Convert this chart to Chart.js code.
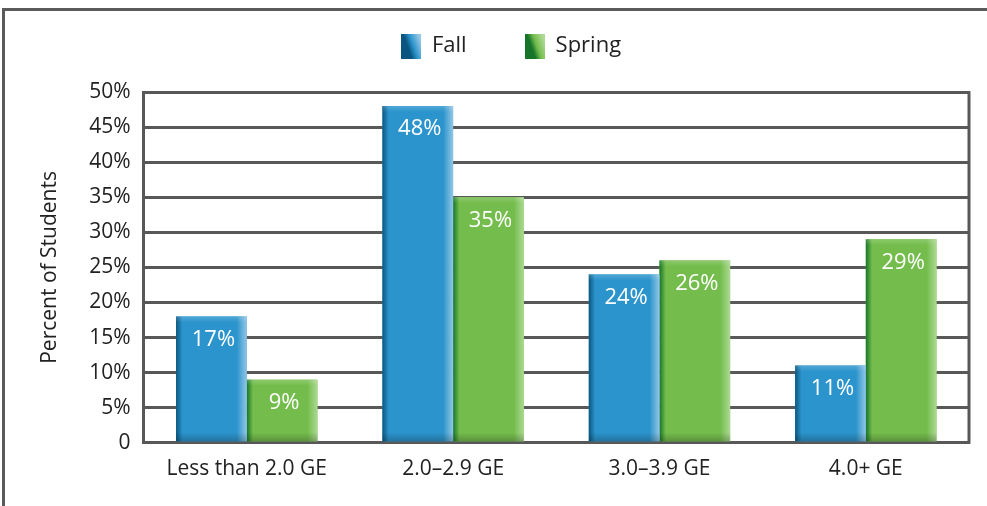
<!DOCTYPE html>
<html>
<head>
<meta charset="utf-8">
<script src="https://cdn.jsdelivr.net/npm/chart.js@4.4.1/dist/chart.umd.min.js"></script>
<style>
  html, body { margin: 0; padding: 0; background: #fff; }
  #wrap { position: relative; width: 987px; height: 506px; overflow: hidden; }
  #frame { position: absolute; left: 2px; top: 8px; width: 1000px; height: 600px;
           border-top: 3px solid #5a5a5a; border-left: 3px solid #5a5a5a; pointer-events: none; }
  canvas { position: absolute; left: 0; top: 0; }
</style>
</head>
<body>
<div id="wrap">
  <canvas id="chart" width="987" height="506"></canvas>
  <div id="frame"></div>
</div>
<script>
// data
const categories = ["Less than 2.0 GE", "2.0–2.9 GE", "3.0–3.9 GE", "4.0+ GE"];
const fallValues = [18, 48, 24, 11];
const springValues = [9, 35, 26, 29];
const fallLabels = ["17%", "48%", "24%", "11%"];
const springLabels = ["9%", "35%", "26%", "29%"];
const yTickValues = [0, 5, 10, 15, 20, 25, 30, 35, 40, 45, 50];

const FONT = "'Open Sans', 'Noto Sans', sans-serif";
const gridGray = "#585858";
const textGray = "#222";

const shades = [
  { dark: "#0b5680", main: "#2b94cc", light: "#93c6e6" },   // fall
  { dark: "#17752a", main: "#74bd4c", light: "#acd993" }    // spring
];

// little gradient squares for the legend
function legendSwatch(s) {
  const c = document.createElement("canvas");
  c.width = 20; c.height = 25;
  const g = c.getContext("2d");
  const grad = g.createLinearGradient(0, 16, 20, 9);
  grad.addColorStop(0, s.dark);
  grad.addColorStop(0.35, s.dark);
  grad.addColorStop(0.6, s.main);
  grad.addColorStop(1, s.light);
  g.fillStyle = grad;
  g.fillRect(0, 0, 20, 25);
  return c;
}

// bevel-ish shading on top of each bar, then the value label
const barShading = {
  id: "barShading",
  afterDatasetDraw(chart, args) {
    const ctx = chart.ctx;
    const s = shades[args.index];
    const texts = args.index === 0 ? fallLabels : springLabels;
    args.meta.data.forEach((bar, i) => {
      const { x, y, base, width } = bar.getProps(["x", "y", "base", "width"], true);
      const left = x - width / 2, h = base - y;
      ctx.save();
      const g = ctx.createLinearGradient(left, 0, left + width, 0);
      g.addColorStop(0, s.dark);
      g.addColorStop(0.09, s.main);
      g.addColorStop(0.86, s.main);
      g.addColorStop(1, s.light);
      ctx.fillStyle = g;
      ctx.fillRect(left, y, width, h);
      const b = ctx.createLinearGradient(0, base - 9, 0, base);
      b.addColorStop(0, "rgba(0,0,0,0)");
      b.addColorStop(1, "rgba(0,0,0,0.22)");
      ctx.fillStyle = b;
      ctx.fillRect(left, base - 9, width, 9);
      const t = ctx.createLinearGradient(0, y, 0, y + 6);
      t.addColorStop(0, "rgba(255,255,255,0.18)");
      t.addColorStop(1, "rgba(255,255,255,0)");
      ctx.fillStyle = t;
      ctx.fillRect(left, y, width, 6);
      ctx.fillStyle = "#ffffff";
      ctx.font = "22px " + FONT;
      ctx.textAlign = "center";
      ctx.textBaseline = "middle";
      ctx.fillText(texts[i], x + 2, y + 23);
      ctx.restore();
    });
  },
  beforeDatasetsDraw(chart) {
    const a = chart.chartArea, ctx = chart.ctx;
    ctx.save();
    ctx.strokeStyle = gridGray;
    ctx.lineWidth = 3;
    ctx.beginPath();
    ctx.moveTo(a.right, a.top - 1);
    ctx.lineTo(a.right, a.bottom + 1);
    ctx.stroke();
    ctx.restore();
  }
};

// the legend in the picture sits a bit right of the page centre
const legendNudge = {
  id: "legendNudge",
  afterLayout(chart) {
    const lg = chart.legend;
    lg.left += 10;
    lg.right += 10;
  }
};

new Chart(document.getElementById("chart"), {
  type: "bar",
  data: {
    labels: categories,
    datasets: [
      { label: "Fall", data: fallValues, backgroundColor: shades[0].main,
        pointStyle: legendSwatch(shades[0]) },
      { label: "Spring", data: springValues, backgroundColor: shades[1].main,
        pointStyle: legendSwatch(shades[1]) }
    ]
  },
  options: {
    responsive: false,
    animation: false,
    layout: { padding: { left: 33, right: 18, top: -23, bottom: 18 } },
    datasets: { bar: { categoryPercentage: 0.685, barPercentage: 1.0 } },
    plugins: {
      tooltip: { enabled: false },
      legend: {
        position: "top",
        labels: {
          usePointStyle: true,
          boxWidth: 20,
          boxHeight: 20,
          padding: 58,
          color: textGray,
          font: { family: FONT, size: 22 }
        }
      },
      // empty spacer between the legend and the plot
      subtitle: {
        display: true,
        text: "",
        position: "top",
        weight: 500,
        font: { size: 10, lineHeight: 1 },
        padding: { top: 15, bottom: 0 }
      }
    },
    scales: {
      x: {
        grid: { display: false },
        border: { color: gridGray, width: 3 },
        ticks: { color: textGray, font: { family: FONT, size: 21 }, padding: 6 }
      },
      y: {
        min: 0,
        max: 50,
        afterBuildTicks(axis) { axis.ticks = yTickValues.map(v => ({ value: v })); },
        grid: { color: gridGray, lineWidth: 3, drawTicks: false },
        border: { color: gridGray, width: 3 },
        title: { display: true, text: "Percent of Students", color: textGray,
                 font: { family: FONT, size: 21 }, padding: { bottom: 14 } },
        ticks: {
          color: textGray,
          font: { family: FONT, size: 21 },
          padding: 13,
          callback: v => v === 0 ? "0" : v + "%"
        }
      }
    }
  },
  plugins: [barShading, legendNudge]
});
</script>
</body>
</html>
